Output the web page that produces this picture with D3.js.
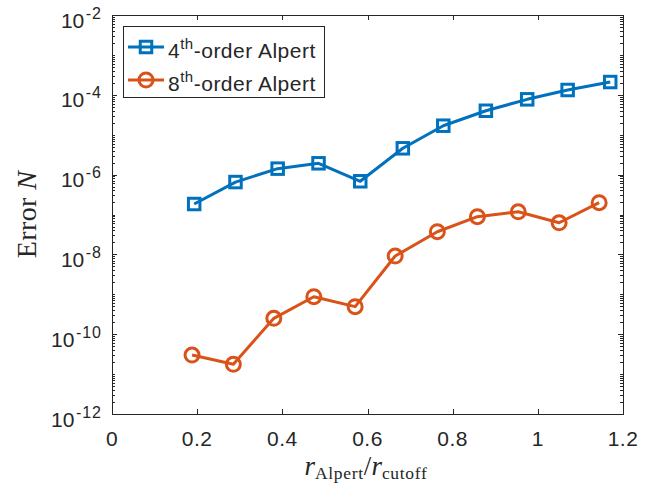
<!DOCTYPE html>
<html>
<head>
<meta charset="utf-8">
<script src="https://cdn.jsdelivr.net/npm/d3@7"></script>
<style>
  html, body { margin: 0; padding: 0; background: #fff; }
  svg { display: block; }
  .tick-label { font-family: "Liberation Sans", Arial, Helvetica, sans-serif; fill: #262626; }
  .serif { font-family: "Liberation Serif", "DejaVu Serif", serif; fill: #262626; }
</style>
</head>
<body>
<svg id="chart" width="653" height="485"></svg>
<script>
// Abscissa r_Alpert / r_cutoff for each run
const xFourth = [0.193, 0.290, 0.389, 0.485, 0.583, 0.683, 0.778, 0.878, 0.975, 1.070, 1.170];
const xEighth = [0.188, 0.285, 0.380, 0.474, 0.571, 0.665, 0.764, 0.858, 0.954, 1.050, 1.144];
// Error N
const errFourth = [1.83e-7, 6.5e-7, 1.41e-6, 1.92e-6, 6.8e-7, 4.56e-6, 1.68e-5, 3.98e-5, 7.7e-5, 1.32e-4, 2.09e-4];
const errEighth = [3.0e-11, 1.76e-11, 2.5e-10, 8.7e-10, 4.9e-10, 9.1e-9, 3.7e-8, 8.8e-8, 1.17e-7, 6.2e-8, 1.98e-7];
// Axis ticks
const xTicks = [0, 0.2, 0.4, 0.6, 0.8, 1, 1.2];
const xTickLabels = ["0", "0.2", "0.4", "0.6", "0.8", "1", "1.2"];
const yTickExponents = [-2, -4, -6, -8, -10, -12];
const seriesNames = ["4", "8"];

const svg = d3.select("#chart");
const m = { left: 112, right: 623, top: 15, bottom: 414 };
const axisColor = "#262626";
const blue = "#0072BD", orange = "#D95319";

const x = d3.scaleLinear().domain([0, 1.2]).range([m.left, m.right]);
const y = d3.scaleLog().domain([1e-12, 1e-2]).range([m.bottom, m.top]);

// Ticks (drawn inside the box, on all four sides)
const g = svg.append("g");
const majorLen = 5, minorLen = 3;
xTicks.forEach(v => {
  const px = Math.round(x(v)) + 0.5;
  g.append("line").attr("x1", px).attr("x2", px).attr("y1", m.bottom).attr("y2", m.bottom - majorLen)
    .attr("stroke", axisColor).attr("stroke-width", 1);
  g.append("line").attr("x1", px).attr("x2", px).attr("y1", m.top).attr("y2", m.top + majorLen)
    .attr("stroke", axisColor).attr("stroke-width", 1);
});
// log minor ticks: 1..9 in every decade, majors at even exponents
for (let e = -12; e < -2; e++) {
  for (let k = 1; k <= 9; k++) {
    if (k === 1 && e % 2 === 0) continue;
    const py = Math.round(y(k * Math.pow(10, e))) + 0.5;
    [[m.left, 1], [m.right, -1]].forEach(([ax, dir]) => {
      g.append("line").attr("x1", ax).attr("x2", ax + dir * minorLen).attr("y1", py).attr("y2", py)
        .attr("stroke", axisColor).attr("stroke-width", 1);
    });
  }
}
yTickExponents.forEach(e => {
  const py = Math.round(y(Math.pow(10, e))) + 0.5;
  [[m.left, 1], [m.right, -1]].forEach(([ax, dir]) => {
    g.append("line").attr("x1", ax).attr("x2", ax + dir * majorLen).attr("y1", py).attr("y2", py)
      .attr("stroke", axisColor).attr("stroke-width", 1);
  });
});

// Box
svg.append("rect").attr("x", m.left + 0.5).attr("y", m.top + 0.5)
  .attr("width", m.right - m.left).attr("height", m.bottom - m.top)
  .attr("fill", "none").attr("stroke", axisColor).attr("stroke-width", 1);

// X tick labels
xTicks.forEach((v, i) => {
  svg.append("text").attr("class", "tick-label").attr("x", x(v)).attr("y", m.bottom + 32)
    .attr("text-anchor", "middle").attr("font-size", 21).attr("letter-spacing", 0.5)
    .text(xTickLabels[i]);
});

// Y tick labels: 10^e
yTickExponents.forEach(e => {
  const t = svg.append("text").attr("class", "tick-label").attr("x", 102).attr("y", y(Math.pow(10, e)) + 12.5)
    .attr("text-anchor", "end").attr("font-size", 21);
  t.append("tspan").text("10");
  t.append("tspan").attr("dx", 1.5).attr("dy", -9).attr("font-size", 16).attr("letter-spacing", 1)
    .text(String(e));
});

// Axis titles
const xt = svg.append("text").attr("class", "serif").attr("x", 366).attr("y", 475)
  .attr("text-anchor", "middle").attr("font-size", 27);
xt.append("tspan").attr("font-style", "italic").text("r");
xt.append("tspan").attr("font-size", 17.5).attr("letter-spacing", 0.7).attr("dy", 4).text("Alpert");
xt.append("tspan").attr("font-size", 27).attr("dy", -4).text("/");
xt.append("tspan").attr("font-style", "italic").text("r");
xt.append("tspan").attr("font-size", 17.5).attr("letter-spacing", 0.7).attr("dy", 4).text("cutoff");

const yt = svg.append("text").attr("class", "serif")
  .attr("transform", `translate(36, ${(m.top + m.bottom) / 2}) rotate(-90)`)
  .attr("text-anchor", "middle").attr("font-size", 28).attr("letter-spacing", 0.4);
yt.append("tspan").text("Error ");
yt.append("tspan").attr("font-style", "italic").text("N");

// Series
const line = d3.line().x(d => x(d[0])).y(d => y(d[1]));
const fourth = xFourth.map((v, i) => [v, errFourth[i]]);
const eighth = xEighth.map((v, i) => [v, errEighth[i]]);

const plot = svg.append("g");
plot.append("path").datum(fourth).attr("d", line).attr("fill", "none")
  .attr("stroke", blue).attr("stroke-width", 3).attr("stroke-linejoin", "round");
plot.selectAll(".sq").data(fourth).enter().append("rect")
  .attr("x", d => x(d[0]) - 5.75).attr("y", d => y(d[1]) - 5.75)
  .attr("width", 11.5).attr("height", 11.5)
  .attr("fill", "none").attr("stroke", blue).attr("stroke-width", 3);

plot.append("path").datum(eighth).attr("d", line).attr("fill", "none")
  .attr("stroke", orange).attr("stroke-width", 3).attr("stroke-linejoin", "round");
plot.selectAll(".ci").data(eighth).enter().append("circle")
  .attr("cx", d => x(d[0])).attr("cy", d => y(d[1])).attr("r", 7)
  .attr("fill", "none").attr("stroke", orange).attr("stroke-width", 3);

// Legend
const lg = svg.append("g");
lg.append("rect").attr("x", 123.5).attr("y", 26.5).attr("width", 201).attr("height", 71)
  .attr("fill", "#fff").attr("stroke", axisColor).attr("stroke-width", 1);
const rows = [
  { y: 47, color: blue, marker: "square", name: seriesNames[0] },
  { y: 80, color: orange, marker: "circle", name: seriesNames[1] }
];
rows.forEach(r => {
  lg.append("line").attr("x1", 128).attr("x2", 164).attr("y1", r.y).attr("y2", r.y)
    .attr("stroke", r.color).attr("stroke-width", 3);
  if (r.marker === "square") {
    lg.append("rect").attr("x", 146 - 5.75).attr("y", r.y - 5.75).attr("width", 11.5).attr("height", 11.5)
      .attr("fill", "none").attr("stroke", r.color).attr("stroke-width", 3);
  } else {
    lg.append("circle").attr("cx", 146).attr("cy", r.y).attr("r", 7)
      .attr("fill", "none").attr("stroke", r.color).attr("stroke-width", 3);
  }
  const t = lg.append("text").attr("class", "tick-label").attr("x", 168).attr("y", r.y + 11)
    .attr("font-size", 21).attr("letter-spacing", 0.5).attr("fill", "#000");
  t.append("tspan").text(r.name);
  t.append("tspan").attr("dy", -9).attr("font-size", 15).text("th");
  t.append("tspan").attr("dy", 9).text("-order Alpert");
});
</script>
</body>
</html>
